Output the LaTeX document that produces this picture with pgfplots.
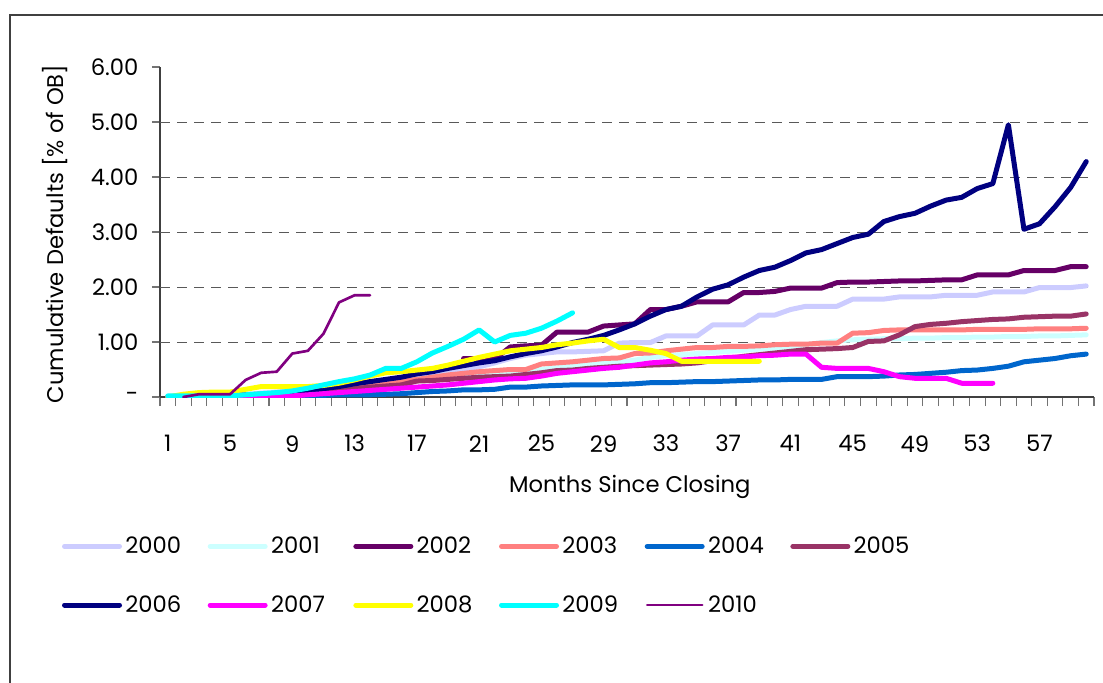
\documentclass[border=0pt]{standalone}
\usepackage{fontspec}
\setmainfont{Poppins}
\usepackage{pgfplots}
\pgfplotsset{compat=1.18}
\definecolor{c2000}{HTML}{CCCCFF}
\definecolor{c2001}{HTML}{CCFFFF}
\definecolor{c2002}{HTML}{660066}
\definecolor{c2003}{HTML}{FF8080}
\definecolor{c2004}{HTML}{0066CC}
\definecolor{c2005}{HTML}{993366}
\definecolor{c2006}{HTML}{000080}
\definecolor{c2007}{HTML}{FF00FF}
\definecolor{c2008}{HTML}{FFFF00}
\definecolor{c2009}{HTML}{00FFFF}
\definecolor{c2010}{HTML}{800080}
\definecolor{frame}{HTML}{404040}
\begin{document}
\begin{tikzpicture}
\useasboundingbox (0,0) rectangle (827.25pt,511.5pt);
\draw[frame, line width=1.5pt] (7.5pt,-5pt) -- (7.5pt,500.25pt) -- (835pt,500.25pt);
\begin{axis}[
  at={(120pt,213.75pt)}, anchor=south west,
  scale only axis, width=700.5pt, height=247.5pt,
  xmin=0.5, xmax=60.5, ymin=0, ymax=6,
  axis x line*=bottom, axis y line*=left,
  axis line style={draw=frame, line width=1.1pt, -},
  font=\fontsize{17}{20}\selectfont,
  /pgf/number format/assume math mode=true,
  tick align=outside,
  xtick={1,5,...,57}, major x tick style={draw=none},
  minor xtick={0.5,1.5,...,60.5},
  minor tick length=6.75pt,
  minor x tick style={draw=gray!90!black, line width=0.8pt},
  xticklabel style={anchor=center, yshift=-29pt},
  ytick={0,1,...,6},
  yticklabels={-,1.00,2.00,3.00,4.00,5.00,6.00},
  major tick length=6pt,
  y tick style={draw=gray!90!black, line width=0.8pt},
  yticklabel style={anchor=east, inner sep=0pt, xshift=-10pt},
  extra y ticks={1,2,3,4,5}, extra y tick labels={},
  extra y tick style={grid=major, major tick length=0pt},
  major grid style={draw=black!65, line width=0.75pt, dash pattern=on 7.5pt off 5.25pt},
  xlabel={Months Since Closing},
  xlabel style={at={(axis description cs:0.503,-0.2727)}, anchor=center},
  ylabel={Cumulative Defaults [\% of OB]},
  ylabel style={at={(axis description cs:-0.1124,0.494)}, anchor=center},
  every axis plot/.append style={line width=3.75pt, line join=round, line cap=round, mark=none},
  legend columns=6,
  legend style={draw=none, fill=none, inner sep=0pt, outer sep=0pt,
    at={(axis description cs:-0.1049,-0.4242)}, anchor=north west,
    font=\fontsize{17}{20}\selectfont,
    row sep=30pt,
    /tikz/every odd column/.append style={column sep=2.5pt},
    /tikz/every even column/.append style={column sep=16.75pt},
    nodes={inner sep=0pt}},
  legend image code/.code={\draw[#1] (0pt,0pt) -- (41.25pt,0pt);},
]
% 2000
\addplot[c2000] coordinates {(1,0) (2,0.01) (3,0.02) (4,0.03) (5,0.04) (6,0.05) (7,0.07) (8,0.09) (9,0.11) (10,0.13) (11,0.16) (12,0.19) (13,0.22) (14,0.26) (15,0.30) (16,0.34) (17,0.38) (18,0.42) (19,0.46) (20,0.50) (21,0.55) (22,0.62) (23,0.70) (24,0.76) (25,0.79) (26,0.82) (27,0.82) (28,0.83) (29,0.84) (30,0.98) (31,0.99) (32,0.99) (33,1.11) (34,1.11) (35,1.11) (36,1.31) (37,1.31) (38,1.31) (39,1.49) (40,1.49) (41,1.59) (42,1.65) (43,1.65) (44,1.65) (45,1.78) (46,1.78) (47,1.78) (48,1.82) (49,1.82) (50,1.82) (51,1.85) (52,1.85) (53,1.85) (54,1.91) (55,1.91) (56,1.91) (57,1.99) (58,1.99) (59,1.99) (60,2.02)};
\addlegendentry{\makebox[45pt][l]{2000}}
% 2001
\addplot[c2001] coordinates {(1,0) (2,0.01) (3,0.02) (4,0.03) (5,0.04) (6,0.05) (7,0.06) (8,0.08) (9,0.10) (10,0.12) (11,0.14) (12,0.17) (13,0.20) (14,0.23) (15,0.26) (16,0.28) (17,0.30) (18,0.32) (19,0.35) (20,0.38) (21,0.40) (22,0.42) (23,0.45) (24,0.47) (25,0.50) (26,0.53) (27,0.56) (28,0.59) (29,0.61) (30,0.63) (31,0.67) (32,0.72) (33,0.75) (34,0.77) (35,0.79) (36,0.81) (37,0.83) (38,0.85) (39,0.87) (40,0.89) (41,0.92) (42,0.95) (43,0.99) (44,1.02) (45,1.04) (46,1.05) (47,1.06) (48,1.06) (49,1.07) (50,1.07) (51,1.08) (52,1.08) (53,1.09) (54,1.09) (55,1.10) (56,1.10) (57,1.11) (58,1.11) (59,1.12) (60,1.13)};
\addlegendentry{\makebox[45pt][l]{2001}}
% 2002
\addplot[c2002] coordinates {(20,0.70) (21,0.70) (22,0.69) (23,0.91) (24,0.93) (25,0.94) (26,1.18) (27,1.18) (28,1.18) (29,1.29) (30,1.31) (31,1.33) (32,1.59) (33,1.59) (34,1.65) (35,1.73) (36,1.73) (37,1.73) (38,1.90) (39,1.90) (40,1.92) (41,1.98) (42,1.98) (43,1.98) (44,2.08) (45,2.09) (46,2.09) (47,2.10) (48,2.11) (49,2.11) (50,2.12) (51,2.13) (52,2.13) (53,2.22) (54,2.22) (55,2.22) (56,2.30) (57,2.30) (58,2.30) (59,2.37) (60,2.37)};
\addlegendentry{\makebox[45pt][l]{2002}}
% 2003
\addplot[c2003] coordinates {(1,0) (2,0) (3,0.01) (4,0.02) (5,0.03) (6,0.04) (7,0.05) (8,0.06) (9,0.08) (10,0.10) (11,0.12) (12,0.15) (13,0.18) (14,0.22) (15,0.26) (16,0.28) (17,0.32) (18,0.36) (19,0.40) (20,0.43) (21,0.46) (22,0.48) (23,0.50) (24,0.50) (25,0.60) (26,0.62) (27,0.64) (28,0.67) (29,0.70) (30,0.71) (31,0.79) (32,0.80) (33,0.84) (34,0.87) (35,0.90) (36,0.90) (37,0.92) (38,0.92) (39,0.93) (40,0.95) (41,0.96) (42,0.96) (43,0.98) (44,0.98) (45,1.16) (46,1.17) (47,1.21) (48,1.22) (49,1.22) (50,1.22) (51,1.22) (52,1.22) (53,1.23) (54,1.23) (55,1.23) (56,1.23) (57,1.24) (58,1.24) (59,1.24) (60,1.25)};
\addlegendentry{\makebox[45pt][l]{2003}}
% 2004
\addplot[c2004] coordinates {(1,0) (2,0) (3,0) (4,0) (5,0) (6,0.01) (7,0.01) (8,0.02) (9,0.02) (10,0.03) (11,0.03) (12,0.04) (13,0.04) (14,0.04) (15,0.05) (16,0.06) (17,0.08) (18,0.10) (19,0.11) (20,0.13) (21,0.13) (22,0.14) (23,0.18) (24,0.18) (25,0.20) (26,0.21) (27,0.22) (28,0.22) (29,0.22) (30,0.23) (31,0.24) (32,0.26) (33,0.26) (34,0.27) (35,0.28) (36,0.28) (37,0.29) (38,0.30) (39,0.31) (40,0.31) (41,0.32) (42,0.32) (43,0.32) (44,0.37) (45,0.37) (46,0.37) (47,0.38) (48,0.40) (49,0.41) (50,0.43) (51,0.45) (52,0.48) (53,0.49) (54,0.52) (55,0.56) (56,0.64) (57,0.67) (58,0.70) (59,0.75) (60,0.78)};
\addlegendentry{\makebox[45pt][l]{2004}}
% 2005
\addplot[c2005] coordinates {(1,0) (2,0.01) (3,0.02) (4,0.03) (5,0.03) (6,0.04) (7,0.05) (8,0.06) (9,0.07) (10,0.09) (11,0.11) (12,0.13) (13,0.15) (14,0.18) (15,0.20) (16,0.22) (17,0.29) (18,0.30) (19,0.32) (20,0.34) (21,0.36) (22,0.37) (23,0.38) (24,0.41) (25,0.44) (26,0.48) (27,0.49) (28,0.52) (29,0.54) (30,0.56) (31,0.57) (32,0.58) (33,0.59) (34,0.60) (35,0.62) (36,0.66) (37,0.70) (38,0.74) (39,0.77) (40,0.80) (41,0.83) (42,0.86) (43,0.87) (44,0.88) (45,0.90) (46,1.01) (47,1.02) (48,1.13) (49,1.28) (50,1.32) (51,1.34) (52,1.37) (53,1.39) (54,1.41) (55,1.42) (56,1.45) (57,1.46) (58,1.47) (59,1.47) (60,1.51)};
\addlegendentry{\makebox[45pt][l]{2005}}
% 2006
\addplot[c2006] coordinates {(1,0) (2,0.01) (3,0.01) (4,0.02) (5,0.02) (6,0.03) (7,0.05) (8,0.07) (9,0.09) (10,0.12) (11,0.15) (12,0.19) (13,0.24) (14,0.28) (15,0.32) (16,0.36) (17,0.42) (18,0.46) (19,0.52) (20,0.57) (21,0.62) (22,0.66) (23,0.73) (24,0.79) (25,0.84) (26,0.91) (27,0.99) (28,1.05) (29,1.12) (30,1.22) (31,1.33) (32,1.47) (33,1.59) (34,1.65) (35,1.82) (36,1.96) (37,2.04) (38,2.18) (39,2.30) (40,2.36) (41,2.48) (42,2.62) (43,2.68) (44,2.79) (45,2.90) (46,2.96) (47,3.19) (48,3.28) (49,3.34) (50,3.47) (51,3.58) (52,3.63) (53,3.79) (54,3.88) (55,4.95) (56,3.05) (57,3.15) (58,3.46) (59,3.81) (60,4.28)};
\addlegendentry{\makebox[45pt][l]{2006}}
% 2007
\addplot[c2007] coordinates {(1,0) (2,0) (3,0) (4,0) (5,0) (6,0) (7,0) (8,0.01) (9,0.02) (10,0.04) (11,0.06) (12,0.08) (13,0.10) (14,0.12) (15,0.14) (16,0.16) (17,0.18) (18,0.20) (19,0.22) (20,0.25) (21,0.28) (22,0.31) (23,0.33) (24,0.34) (25,0.38) (26,0.43) (27,0.46) (28,0.49) (29,0.52) (30,0.54) (31,0.58) (32,0.62) (33,0.64) (34,0.67) (35,0.69) (36,0.70) (37,0.72) (38,0.73) (39,0.75) (40,0.76) (41,0.78) (42,0.78) (43,0.54) (44,0.52) (45,0.52) (46,0.52) (47,0.46) (48,0.37) (49,0.34) (50,0.34) (51,0.34) (52,0.25) (53,0.25) (54,0.25)};
\addlegendentry{\makebox[45pt][l]{2007}}
% 2008
\addplot[c2008] coordinates {(1,0) (2,0.05) (3,0.08) (4,0.09) (5,0.09) (6,0.14) (7,0.19) (8,0.19) (9,0.19) (10,0.19) (11,0.21) (12,0.25) (13,0.31) (14,0.38) (15,0.44) (16,0.46) (17,0.49) (18,0.52) (19,0.58) (20,0.65) (21,0.72) (22,0.78) (23,0.84) (24,0.87) (25,0.90) (26,0.95) (27,0.98) (28,1.02) (29,1.05) (30,0.90) (31,0.90) (32,0.85) (33,0.79) (34,0.65) (35,0.65) (36,0.65) (37,0.65) (38,0.65) (39,0.65)};
\addlegendentry{\makebox[45pt][l]{2008}}
% 2009
\addplot[c2009] coordinates {(1,0.02) (2,0.02) (3,0.02) (4,0.02) (5,0.02) (6,0.04) (7,0.06) (8,0.08) (9,0.11) (10,0.16) (11,0.22) (12,0.28) (13,0.33) (14,0.40) (15,0.52) (16,0.52) (17,0.64) (18,0.80) (19,0.92) (20,1.05) (21,1.22) (22,1.00) (23,1.12) (24,1.16) (25,1.25) (26,1.38) (27,1.53)};
\addlegendentry{\makebox[45pt][l]{2009}}
% 2010
\addplot[c2010, line width=2pt] coordinates {(2,0) (3,0.05) (4,0.05) (5,0.05) (6,0.31) (7,0.44) (8,0.46) (9,0.79) (10,0.84) (11,1.15) (12,1.72) (13,1.85) (14,1.85)};
\addlegendentry{\makebox[45pt][l]{2010}}
\end{axis}
\end{tikzpicture}
\end{document}
